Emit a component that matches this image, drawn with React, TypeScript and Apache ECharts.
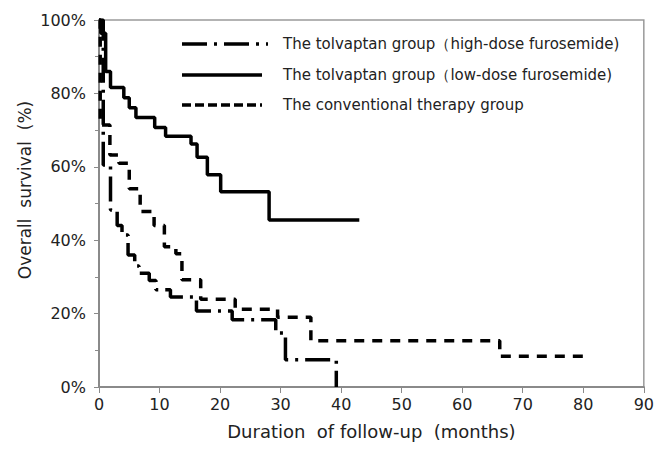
import React, { useEffect, useRef } from "react";
import * as echarts from "echarts";

// Kaplan-Meier step data (months, % surviving)
const highDoseTimes = [0, 0.7, 1.9, 3.0, 3.8, 4.8, 5.9, 6.6, 8.3, 9.4, 11.8, 16.1, 22.0, 29.2, 30.8, 39.2];
const highDoseSurv = [100, 60.5, 48.2, 44.0, 41.4, 36.0, 33.0, 31.0, 29.0, 26.5, 24.5, 20.7, 18.3, 14.7, 7.4, 0];

const lowDoseTimes = [0, 0.3, 1.1, 1.9, 4.1, 5.0, 6.1, 9.2, 11.0, 15.2, 16.2, 17.9, 20.1, 28.1, 43.0];
const lowDoseSurv = [100, 96.4, 86.0, 81.6, 78.8, 76.1, 73.4, 70.7, 68.3, 66.2, 62.6, 57.8, 53.2, 45.5, 45.5];

const convTimes = [0, 0.2, 1.8, 3.3, 5.0, 6.8, 9.1, 10.8, 12.7, 13.7, 16.8, 22.5, 29.5, 35.0, 66.2, 81.1];
const convSurv = [100, 71.4, 63.2, 61.0, 54.0, 47.8, 44.0, 38.2, 36.3, 29.2, 23.9, 21.2, 19.0, 12.6, 8.4, 8.4];

const legendLabels = [
  "The tolvaptan group（high-dose furosemide)",
  "The tolvaptan group（low-dose furosemide)",
  "The conventional therapy group",
];

const xTicks = [0, 10, 20, 30, 40, 50, 60, 70, 80, 90];
const yTicks = [0, 20, 40, 60, 80, 100];

const FONT = "DejaVu Sans";
const TXT = "#222";

function pairs(t: number[], s: number[]) {
  return t.map((v, i) => [v, s[i]]);
}

export default function App() {
  const ref = useRef<HTMLDivElement>(null);
  useEffect(() => {
    document.body.style.margin = "0";
    document.body.style.overflow = "hidden";
    if (!ref.current) return;
    const chart = echarts.init(ref.current, null, { renderer: "svg" });
    const dashDot = [25, 7, 3, 7];
    const dashed = [10, 8];
    const legendStyles = [dashDot, null, [9, 4]];
    const legendY = [44, 75, 105];
    const graphics: any[] = [];
    legendLabels.forEach((lab, i) => {
      graphics.push({
        type: "line",
        shape: { x1: 182, y1: legendY[i], x2: i === 0 ? 268 : 262, y2: legendY[i] },
        style: {
          stroke: "#000",
          lineWidth: 3.5,
          lineDash: legendStyles[i] || undefined,
        },
      });
      graphics.push({
        type: "text",
        x: 283,
        y: legendY[i],
        style: {
          text: lab,
          fill: TXT,
          font: `15px "${FONT}"`,
          verticalAlign: "middle",
          align: "left",
        },
      });
    });
    graphics.push({
      type: "text",
      x: 25,
      y: 190,
      rotation: Math.PI / 2,
      style: {
        text: "Overall  survival  (%)",
        fill: TXT,
        font: `17px "${FONT}"`,
        align: "center",
        verticalAlign: "middle",
      },
    });

    const axisLine = { show: true, lineStyle: { color: "#8a8a8a", width: 2 } };
    chart.setOption({
      animation: false,
      grid: { left: 99, right: 12, top: 20, bottom: 62, show: true, borderColor: "#9a9a9a", borderWidth: 1.5 },
      xAxis: {
        type: "value",
        min: xTicks[0],
        max: xTicks[xTicks.length - 1],
        interval: 10,
        name: "Duration  of follow-up  (months)",
        nameLocation: "middle",
        nameGap: 35,
        nameTextStyle: { fontFamily: FONT, fontSize: 18, color: TXT },
        axisLine,
        axisTick: { show: true, inside: false, length: 6, lineStyle: { color: "#8a8a8a" } },
        axisLabel: { fontFamily: FONT, fontSize: 16, color: TXT, margin: 9 },
        splitLine: { show: false },
      },
      yAxis: {
        type: "value",
        min: yTicks[0],
        max: yTicks[yTicks.length - 1],
        interval: 20,
        axisLine,
        axisTick: { show: true, inside: false, length: 5, lineStyle: { color: "#8a8a8a" } },
        minorTick: { show: true, splitNumber: 2, length: 4, lineStyle: { color: "#8a8a8a" } },
        axisLabel: { fontFamily: FONT, fontSize: 16, color: TXT, margin: 13, formatter: "{value}%" },
        splitLine: { show: false },
      },
      graphic: graphics,
      series: [
        {
          name: legendLabels[0],
          type: "line",
          step: "end",
          symbol: "none",
          data: pairs(highDoseTimes, highDoseSurv),
          lineStyle: { color: "#000", width: 3.5, type: dashDot },
        },
        {
          name: legendLabels[1],
          type: "line",
          step: "end",
          symbol: "none",
          data: pairs(lowDoseTimes, lowDoseSurv),
          lineStyle: { color: "#000", width: 3.5, type: "solid" },
        },
        {
          name: legendLabels[2],
          type: "line",
          step: "end",
          symbol: "none",
          data: pairs(convTimes, convSurv),
          lineStyle: { color: "#000", width: 3.5, type: dashed },
        },
      ],
    });
    return () => chart.dispose();
  }, []);
  return <div ref={ref} style={{ width: 657, height: 449 }} />;
}
